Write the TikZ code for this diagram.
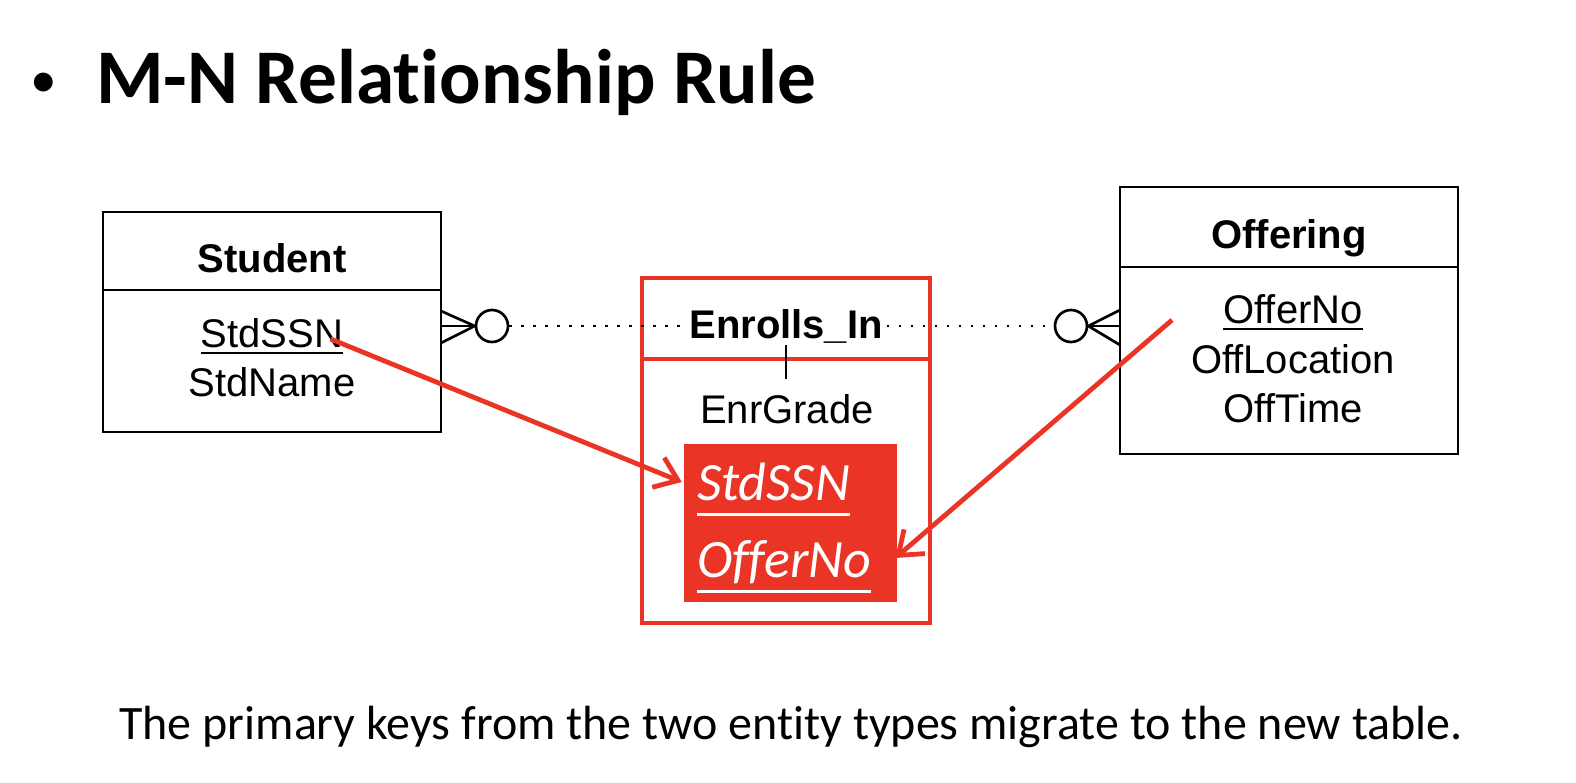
\documentclass[tikz,border=0pt]{standalone}
\usepackage{fontspec}
\setmainfont{Carlito}[Ligatures=NoCommon]
\newfontfamily\erfont{Liberation Sans}
\usetikzlibrary{positioning,calc,arrows.meta}
\definecolor{keyred}{RGB}{234,52,38}
\newcommand{\keyul}[2]{\setbox0\hbox{#2}\rlap{\rule[#1]{\wd0}{0.05em}}\box0}

\begin{document}
\begin{tikzpicture}[x=0.75pt, y=-0.75pt,
    ent/.style={draw, line width=2pt, minimum width=253.5pt, inner sep=0pt, outer sep=0pt,
      text height=31.5pt, text depth=0pt, font=\erfont\fontsize{30}{36}\selectfont\bfseries},
    attr/.style={inner sep=0pt, anchor=base, font=\erfont\fontsize{30}{36}\selectfont},
    relbox/.style={draw=keyred, line width=3.5pt, minimum width=216pt, inner sep=0pt, outer sep=0pt},
    card/.style={circle, draw, line width=2pt, minimum size=24pt, inner sep=0pt},
    crow/.style={line width=2pt},
    relline/.style={line width=1.7pt, dash pattern=on 1.7pt off 7.3pt},
    key/.style={inner sep=0pt, anchor=base west, text=white, font=\fontsize{40.5}{48}\selectfont\itshape},
    migrate/.style={draw=keyred, line width=3.6pt, -{Straight Barb[length=16pt,width=24pt]}}]
\useasboundingbox (0,0) rectangle (1576,782);

% Heading and note
\node[anchor=base west, inner sep=0pt, font=\fontsize{40}{48}\selectfont] (bullet) at (30,97) {•};
\node[anchor=base west, inner sep=0pt, font=\fontsize{58}{68}\selectfont\bfseries] (heading) at (96,103) {M-N Relationship Rule};
\node[anchor=base, inner sep=0pt, font=\fontsize{36}{43}\selectfont] (note) at (791,739) {The primary keys from the two entity types migrate to the new table.};

% Student entity
\node[ent, minimum height=58.5pt] (stdhead) at (272,251) {Student};
\node[ent, minimum height=106.5pt, below=0pt of stdhead] (stdbody) {};
\node[attr] (stdssn) at (272,347) {\keyul{-0.17em}{StdSSN}};
\node[attr] (stdname) at (272,396) {StdName};

% Offering entity
\node[ent, minimum height=60pt] (offhead) at (1289,227) {Offering};
\node[ent, minimum height=140.25pt, below=0pt of offhead] (offbody) {};
\node[attr] (offno) at (1293,323) {\keyul{-0.17em}{OfferNo}};
\node[attr] (offloc) at (1293,373) {OffLocation};
\node[attr] (offtime) at (1293,422) {OffTime};

% Enrolls_In table
\node[relbox, minimum height=60.75pt] (enrhead) at (786,318.5) {};
\node[relbox, minimum height=198pt, below=0pt of enrhead] (enrbody) {};
\node[inner sep=3pt, font=\erfont\fontsize{30}{36}\selectfont\bfseries] (enrname) at (786,326) {Enrolls\_In};
\node[attr] (enrgrade) at (787,423) {EnrGrade};
\draw[line width=1.5pt] ($(enrhead.south)+(0,-14)$) -- ($(enrhead.south)+(0,20)$);

% Migrated keys
\node[fill=keyred, minimum width=159.75pt, minimum height=118.5pt, inner sep=0pt] (keybox) at (790.5,523) {};
\node[key] (fkssn) at ($(keybox.west)+(13,-23)$) {\keyul{-0.29em}{StdSSN}};
\node[key] (fkoff) at ($(keybox.west)+(13,54)$) {\keyul{-0.29em}{OfferNo}};

% Cardinalities
\node[card] (stdcirc) at (492,326) {};
\node[card] (offcirc) at (1071,326) {};
\coordinate (stdfoot) at (stdcirc.west -| stdbody.east);
\coordinate (offfoot) at (offcirc.east -| offbody.west);
\draw[crow] ($(stdfoot)+(0,-15)$) -- (stdcirc.west) -- ($(stdfoot)+(0,17)$);
\draw[crow] (stdfoot) -- (stdcirc.west);
\draw[crow] ($(offfoot)+(0,-16)$) -- (offcirc.east) -- ($(offfoot)+(0,19)$);
\draw[crow] (offfoot) -- (offcirc.east);

% Relationship line
\draw[relline] (stdcirc) -- (enrname);
\draw[relline] (enrname) -- (offcirc);

% Arrows
\draw[migrate] ($(stdssn.east)+(-13,3)$) -- ($(keybox.west)+(-2,-41)$);
\draw[migrate] ($(offbody.north west)+(52,53)$) -- ($(keybox.east)+(-2,35)$);
\end{tikzpicture}
\end{document}
